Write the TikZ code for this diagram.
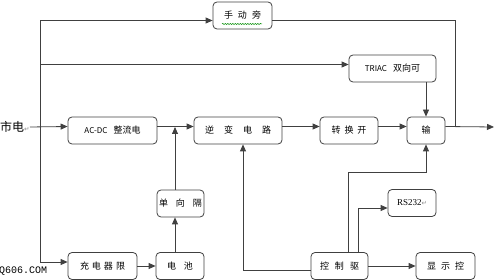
\documentclass[tikz,border=0pt]{standalone}
\usepackage{fontspec}
\setmainfont{Noto Sans CJK SC}
\newfontfamily\latinserif{Liberation Serif}
\newfontfamily\monofont{Liberation Mono}
\newfontfamily\symfont{DejaVu Sans}
\usetikzlibrary{arrows.meta, positioning, decorations.pathmorphing}

\newcommand{\retmark}{{\symfont\color{black!45}\fontsize{6.5}{6.5}\selectfont ↵}}
\newcommand{\gp}[1]{\hspace{#1pt}}

\begin{document}
\begin{tikzpicture}[x=1pt, y=-1pt,
  box/.style={draw=black!75, line width=0.8pt, rounded corners=4pt, minimum height=27pt,
    inner sep=0pt, font=\fontsize{9}{10}\selectfont},
  line/.style={draw=black!75, line width=0.8pt},
  arr/.style={line, -{Triangle[length=7pt, width=6pt]}}]
\useasboundingbox (0,0) rectangle (495,280);

% Bloki
\foreach \n/\x/\y/\w/\t in {
  hand/242.5/15.5/59/{手\gp{5}动\gp{5}旁},
  triac/392.5/68.5/87/{\fontsize{8}{10}\selectfont TRIAC\gp{6}\fontsize{9}{10}\selectfont 双向可},
  acdc/112.5/130.5/89/{\fontsize{8}{10}\selectfont AC-DC\gp{6}\fontsize{9}{10}\selectfont 整流电},
  inv/238/130.5/88/{逆\gp{10}变\gp{10}电\gp{10}路},
  conv/349/130.5/58/{转\gp{4}换\gp{4}开},
  out/426/130.5/38/{输},
  iso/180.5/203.5/47/{单\gp{8}向\gp{8}隔},
  chg/102.5/266/69/{充\gp{3}电\gp{3}器\gp{3}限},
  bat/180/266/48/{电\gp{8}池},
  ctl/339.5/266/57/{控\gp{6}制\gp{6}驱},
  disp/445.5/266/59/{显\gp{5}示\gp{5}控},
  rs/412/203/48/{\latinserif RS232\retmark}
} {
  \node[box, minimum width=\w pt] (\n) at (\x,\y) {\t};
}

% Wejście i szyna zasilania
\node[inner sep=0pt, anchor=west, font=\fontsize{12}{12}\selectfont] (mains) at (0,127) {市电\retmark};
\coordinate (tap) at (40,127);
\draw[arr] (mains.east) -- ([yshift=4pt]acdc.west);
\draw[arr] (tap) |- ([yshift=-5pt]hand.west);
\draw[arr] (tap) |- ([yshift=4pt]triac.west);
\draw[arr] (tap) |- ([yshift=4pt]chg.west);

% Tor główny
\coordinate (merge) at (175,127);
\coordinate (bypass) at (455,127);
\coordinate (load) at (494,127);
\draw[arr] ([yshift=4pt]acdc.east) -- ([yshift=4pt]inv.west);
\draw[arr] (chg.east) -- (bat.west);
\draw[arr] (bat.north -| merge) -- (iso.south -| merge);
\draw[arr] (iso.north -| merge) -- (merge);
\draw[arr] ([yshift=4pt]inv.east) -- ([yshift=4pt]conv.west);
\draw[arr] ([yshift=4pt]conv.east) -- ([yshift=4pt]out.west);
\draw[arr] ([yshift=4pt]out.east) -- (load);
\draw[line] ([yshift=-5pt]hand.east) -| (bypass);
\draw[arr] (out.north |- triac.south) -- (out.north);

% Sterowanie
\coordinate (c1) at (243,270);
\coordinate (c2) at (348,172);
\coordinate (c3) at (358,208);
\draw[arr] ([yshift=-4pt]ctl.west) -| (inv.south -| c1);
\draw[arr] (ctl.north -| c2) -- (c2) -| (out.south);
\draw[arr] (ctl.north -| c3) -- (c3) -- (rs.west |- c3);
\draw[arr] (ctl.east) -- (disp.west);

% podkreślenie i znak wodny
\draw[green!55!black, line width=0.5pt, decorate, decoration={snake, amplitude=0.6pt, segment length=2.5pt}] (222,24) -- (262,24);
\node[inner sep=0pt, anchor=west, font=\monofont\fontsize{10}{10}\selectfont] (mark) at (-1,271) {Q606.COM};
\end{tikzpicture}
\end{document}
